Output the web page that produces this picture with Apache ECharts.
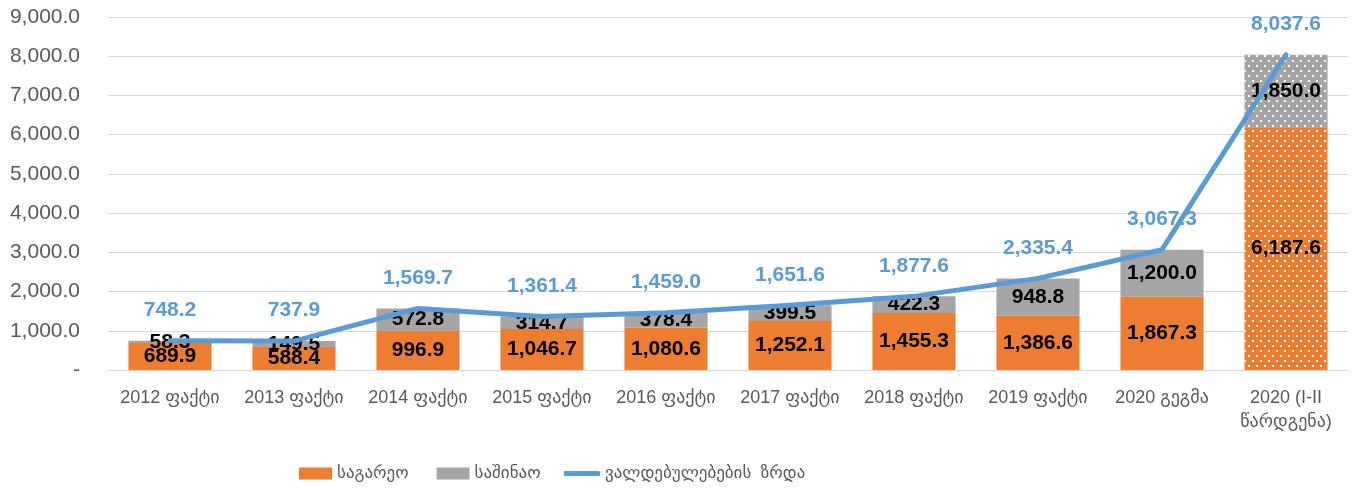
<!DOCTYPE html>
<html><head><meta charset="utf-8">
<script src="https://cdn.jsdelivr.net/npm/echarts@6/dist/echarts.min.js"></script>
<style>html,body{margin:0;padding:0;background:#fff}#c{width:1357px;height:488px}</style>
</head><body><div id="c"></div>
<script>
const categories = ['2012 ფაქტი','2013 ფაქტი','2014 ფაქტი','2015 ფაქტი','2016 ფაქტი','2017 ფაქტი','2018 ფაქტი','2019 ფაქტი','2020 გეგმა','2020 (I-II\nწარდგენა)'];
const external = [689.9, 588.4, 996.9, 1046.7, 1080.6, 1252.1, 1455.3, 1386.6, 1867.3, 6187.6];
const domestic = [58.3, 149.5, 572.8, 314.7, 378.4, 399.5, 422.3, 948.8, 1200.0, 1850.0];
const total = [748.2, 737.9, 1569.7, 1361.4, 1459.0, 1651.6, 1877.6, 2335.4, 3067.3, 8037.6];
const seriesNames = ['საგარეო','საშინაო','ვალდებულებების  ზრდა'];

const FONT = '"Liberation Sans","DejaVu Sans",sans-serif';
const fmt = v => Number(v).toLocaleString('en-US',{minimumFractionDigits:1,maximumFractionDigits:1});
const decal = {symbol:'rect', symbolSize:1, color:'#ffffff', dashArrayX:[[2,6],[0,4,2,2]], dashArrayY:[2,3]};
const withDecal = (arr) => arr.map((v,i)=> i===arr.length-1 ? {value:v, itemStyle:{decal:decal}} : v);
const barLabel = {show:true, position:'inside', color:'#000', fontWeight:'bold', fontSize:21, fontFamily:FONT, formatter:p=>fmt(p.value)};
const legendText = {fontSize:17, color:'#595959', fontFamily:FONT};

const chart = echarts.init(document.getElementById('c'));
chart.setOption({
  animation:false,
  textStyle:{fontFamily:FONT},
  grid:{left:108, right:9, top:17, bottom:118},
  legend:[
    {top:460, left:294, itemGap:28, itemWidth:33, itemHeight:12, textStyle:legendText,
      data:[{name:seriesNames[0], icon:'rect'},{name:seriesNames[1], icon:'rect'}]},
    {top:460, left:559, itemWidth:36, itemHeight:5, textStyle:legendText,
      data:[{name:seriesNames[2], icon:'roundRect'}]}
  ],
  xAxis:{type:'category', data:categories,
    axisLine:{lineStyle:{color:'#D9D9D9'}}, axisTick:{show:false},
    axisLabel:{fontSize:18, color:'#595959', margin:16, interval:0, lineHeight:24, fontFamily:FONT}},
  yAxis:{type:'value', min:0, max:9000, interval:1000,
    axisLine:{show:false}, axisTick:{show:false},
    splitLine:{lineStyle:{color:'#D9D9D9', width:1}},
    axisLabel:{fontSize:21, color:'#595959', margin:28, fontFamily:FONT, formatter:v=> v===0 ? '-' : fmt(v)}},
  series:[
    {name:seriesNames[0], type:'bar', stack:'s', barWidth:'67%', data:withDecal(external), itemStyle:{color:'#ED7D31'}, label:barLabel},
    {name:seriesNames[1], type:'bar', stack:'s', data:withDecal(domestic), itemStyle:{color:'#A5A5A5'}, label:barLabel},
    {name:seriesNames[2], type:'line', data:total, showSymbol:true, symbol:'circle', symbolSize:0,
      lineStyle:{color:'#5B9BD5', width:5, cap:'round', join:'round'}, itemStyle:{color:'#5B9BD5'},
      label:{show:true, position:'top', distance:20, color:'#5B9BD5', fontWeight:'bold', fontSize:21, fontFamily:FONT, formatter:p=>fmt(p.value)}, z:5}
  ]
});
</script></body></html>
